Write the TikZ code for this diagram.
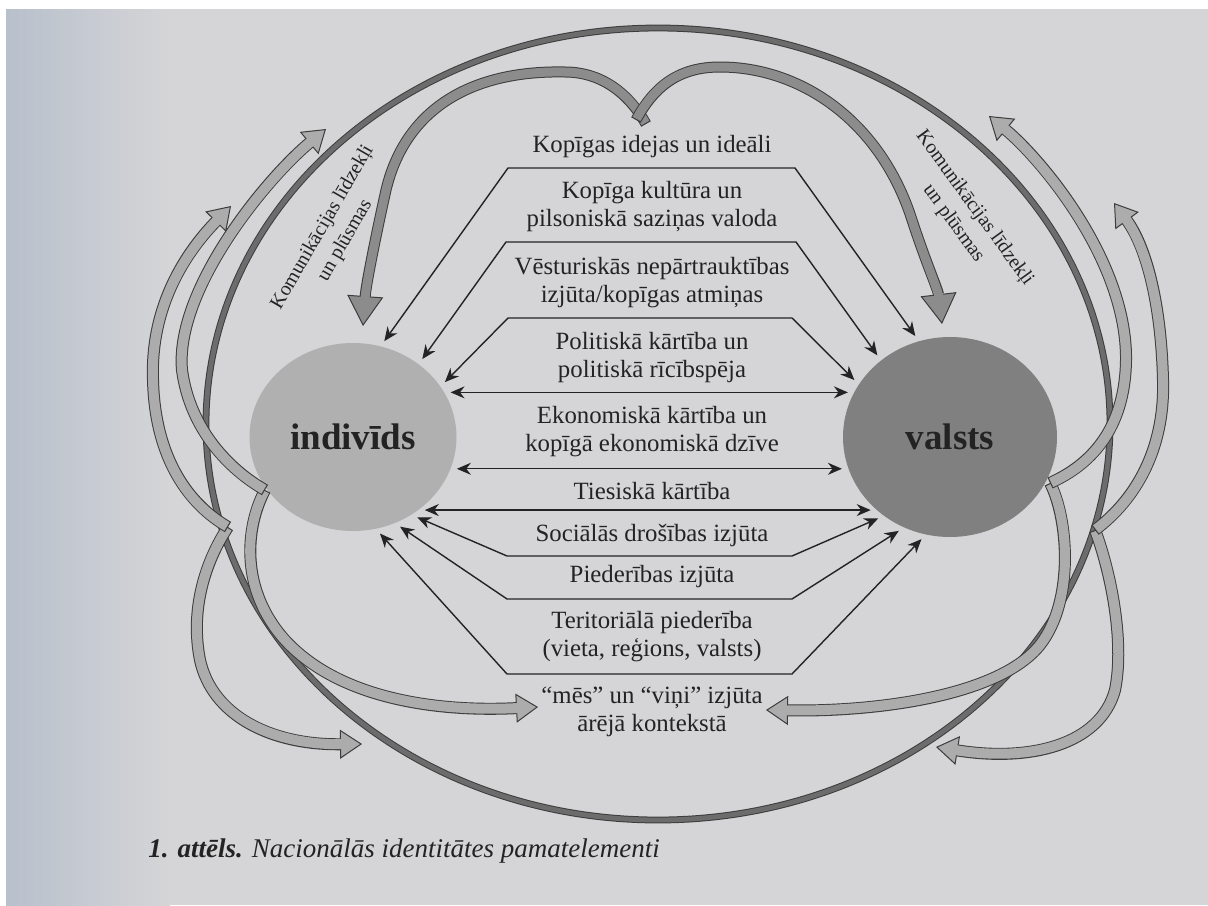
\documentclass[tikz,border=0pt]{standalone}
\usepackage{fontspec}
\setmainfont{Liberation Serif}
\usetikzlibrary{arrows.meta,shapes.geometric}
\definecolor{paper}{RGB}{213,213,215}
\definecolor{paperblue}{RGB}{184,192,204}
\definecolor{ink}{RGB}{35,35,35}
\definecolor{ringgray}{RGB}{108,108,108}
\definecolor{indgray}{RGB}{176,176,176}
\definecolor{valgray}{RGB}{128,128,128}
\definecolor{flowgray}{RGB}{140,140,140}
\definecolor{sidegray}{RGB}{172,172,172}
\definecolor{edgegray}{RGB}{60,60,60}
\tikzset{
  lbl/.style={text=ink,align=center,inner sep=0pt,font=\fontsize{12.4}{14}\selectfont},
  comm/.style={text=ink,align=center,inner sep=0pt,font=\fontsize{10}{13}\selectfont},
  blob/.style={ellipse,inner sep=0pt,text=ink,font=\fontsize{18.5}{20}\selectfont\bfseries},
  conn/.style={draw=ink,line width=0.7pt,>={Stealth[length=7pt,width=6pt]},<->,shorten <=3pt,shorten >=3pt},
  flow/.style={draw=edgegray,line width=5.5pt,-{Triangle[length=15pt,width=18pt,line width=0.5pt,fill=flowgray]},
    postaction={draw=flowgray,line width=4.5pt,arrows=-,shorten >=14pt,shorten <=0.6pt}},
  side/.style={draw=edgegray,line width=6pt,-{Triangle[length=11pt,width=14.5pt,line width=0.5pt,fill=sidegray]},
    postaction={draw=sidegray,line width=5pt,arrows=-,shorten >=10pt,shorten <=0.6pt}}
}
\begin{document}
\begin{tikzpicture}[x=0.5pt,y=-0.5pt]
\fill[paper] (0,0) rectangle (1208,905);
\shade[left color=paperblue,right color=paper] (6,9) rectangle (170,905);
\fill[white] (0,0) rectangle (1208,9);
\fill[white] (0,0) rectangle (6,905);
\useasboundingbox (0,0) rectangle (1208,905);

\draw[edgegray,line width=3.4pt] (658,424) ellipse [x radius=452,y radius=396];
\draw[ringgray,line width=2.4pt] (658,424) ellipse [x radius=452,y radius=396];

\node[blob,fill=indgray,minimum width=103.5pt,minimum height=94pt] (ind) at (353,437) {indivīds};
\node[blob,fill=valgray,minimum width=107pt,minimum height=100pt] (val) at (950,437) {valsts};

\node[lbl] (ideas) at (652,147) {Kopīgas idejas un ideāli};
\node[lbl] (culture) at (652,207) {Kopīga kultūra un\\pilsoniskā saziņas valoda};
\node[lbl] (history) at (652,283) {Vēsturiskās nepārtrauktības\\izjūta/kopīgas atmiņas};
\node[lbl] (politics) at (652,358) {Politiskā kārtība un\\politiskā rīcībspēja};
\node[lbl] (economy) at (652,432) {Ekonomiskā kārtība un\\kopīgā ekonomiskā dzīve};
\node[lbl] (law) at (652,491) {Tiesiskā kārtība};
\node[lbl] (security) at (652,535) {Sociālās drošības izjūta};
\node[lbl] (belonging) at (652,577) {Piederības izjūta};
\node[lbl] (territory) at (652,637) {Teritoriālā piederība\\(vieta, reģions, valsts)};
\node[lbl] (context) at (652,712) {“mēs” un “viņi” izjūta\\ārējā kontekstā};

\node[comm,rotate=60] (commL) at (334,234) {Komunikācijas līdzekļi\\un plūsmas};
\node[comm,rotate=-54] (commR) at (964,216) {Komunikācijas līdzekļi\\un plūsmas};

\node[anchor=west,inner sep=0pt,text=ink,font=\fontsize{13.5}{15}\selectfont\itshape] (caption) at (148,851) {\textbf{1. attēls.} Nacionālās identitātes pamatelementi};

\coordinate (c1l) at (508,168); \coordinate (c1r) at (795,168);
\coordinate (c2l) at (506,242); \coordinate (c2r) at (796,242);
\coordinate (c3l) at (508,318); \coordinate (c3r) at (792,318);
\coordinate (c7l) at (507,556); \coordinate (c7r) at (792,556);
\coordinate (c8l) at (507,599); \coordinate (c8r) at (792,599);
\coordinate (c9l) at (507,674); \coordinate (c9r) at (792,674);

\draw[conn] (ind.73) -- (c1l) -- (c1r) -- (val.108);
\draw[conn] (ind.48) -- (c2l) -- (c2r) -- (val.132);
\draw[conn] (ind.30) -- (c3l) -- (c3r) -- (val.150);
\draw[conn] (ind.26) -- (ind.26 -| val.155);
\draw[conn] (ind.342) -- (ind.342 -| val.197);
\draw[conn] (ind.312) -- (ind.312 -| val.225);
\draw[conn] (ind.307) -- (c7l) -- (c7r) -- (val.230);
\draw[conn] (ind.296) -- (c8l) -- (c8r) -- (val.243);
\draw[conn] (ind.284) -- (c9l) -- (c9r) -- (val.256);

\coordinate (mL0) at (646,124); \coordinate (mL1) at (363,326);
\coordinate (mR0) at (636,120); \coordinate (mR1) at (942,324);
\draw[flow] (mL0) .. controls (628,92) and (600,72) .. (565,72) .. controls (470,70) and (405,110) .. (386,190) .. controls (376,235) and (366,285) .. (mL1);
\draw[flow] (mR0) .. controls (655,85) and (680,67) .. (720,67) .. controls (800,67) and (880,120) .. (912,220) .. controls (925,260) and (938,290) .. (mR1);

\coordinate (foldA) at (228,527); \coordinate (tipA1) at (231,206); \coordinate (tipA2) at (362,744);
\coordinate (foldB) at (265,490); \coordinate (tipB1) at (326,129); \coordinate (tipB2) at (538,707);
\coordinate (foldC) at (1050,483); \coordinate (tipC1) at (989,116); \coordinate (tipC2) at (766,710);
\coordinate (foldD) at (1095,530); \coordinate (tipD1) at (1114,203); \coordinate (tipD2) at (936,747);
\draw[side] (foldA) .. controls (205,562) and (190,610) .. (200,660) .. controls (212,715) and (270,745) .. (tipA2);
\draw[side] (foldB) .. controls (245,528) and (240,590) .. (285,640) .. controls (340,700) and (440,712) .. (tipB2);
\draw[side] (foldC) .. controls (1068,518) and (1075,600) .. (1040,645) .. controls (1000,695) and (880,712) .. (tipC2);
\draw[side] (foldD) .. controls (1110,570) and (1125,640) .. (1115,690) .. controls (1100,745) and (1030,762) .. (tipD2);
\draw[side] (foldA) .. controls (190,505) and (155,460) .. (153,380) .. controls (150,300) and (192,246) .. (tipA1);
\draw[side] (foldB) .. controls (230,470) and (190,430) .. (182,370) .. controls (175,290) and (265,180) .. (tipB1);
\draw[side] (foldC) .. controls (1090,465) and (1125,430) .. (1126,360) .. controls (1127,260) and (1040,158) .. (tipC1);
\draw[side] (foldD) .. controls (1135,500) and (1165,450) .. (1163,380) .. controls (1161,300) and (1145,245) .. (tipD1);
\end{tikzpicture}
\end{document}
